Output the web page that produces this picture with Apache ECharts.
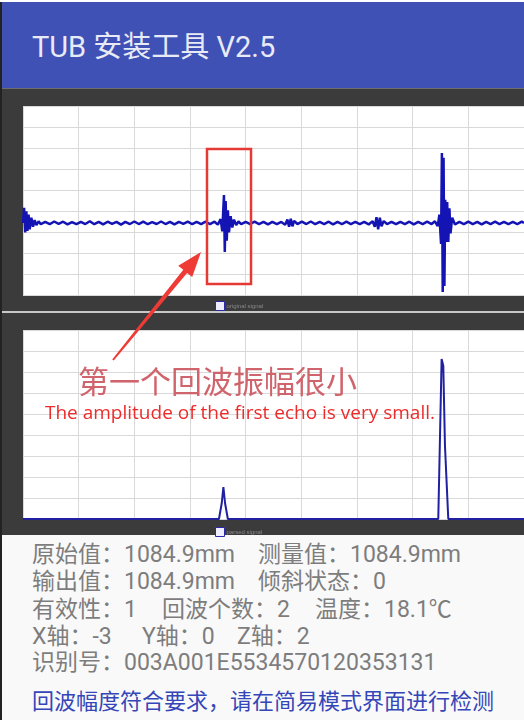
<!DOCTYPE html>
<html>
<head>
<meta charset="utf-8">
<script src="https://cdn.jsdelivr.net/npm/echarts@6/dist/echarts.min.js"></script>
<style>
  body{ margin:0; background:#fff; }
  .page{ position:relative; width:524px; height:720px; overflow:hidden; font-family:Roboto,"Noto Sans CJK SC",sans-serif; }
  .abs{ position:absolute; }
  .edge{ left:0; top:2px; width:2px; height:718px; background:#222; }
  .bar{ left:2px; top:2px; width:522px; height:86px; background:#3f51b5; }
  .title{ left:32px; top:29px; line-height:36px; font-size:29px; color:#e8eaf6; white-space:nowrap; }
  .frame{ left:2px; top:88px; width:522px; height:447px; background:#3b3b3b; border-top:1px solid #6d6d6d; box-sizing:border-box; }
  .sep{ left:2px; top:311px; width:522px; height:2px; background:#c8c8c8; }
  .info{ left:2px; top:535px; width:522px; height:185px; background:#f9f9f9; }
  .t{ font-size:23px; line-height:27px; color:#7d7d7d; white-space:nowrap; }
  .msg{ font-size:22px; line-height:26px; color:#3546b8; white-space:nowrap; }
  #main{ position:absolute; left:0; top:0; width:524px; height:720px; }
</style>
</head>
<body>
<div class="page">
  <div class="abs edge"></div>
  <div class="abs bar"></div>
  <div class="abs title">TUB 安装工具 V2.5</div>
  <div class="abs frame"></div>
  <div class="abs sep"></div>
  <div class="abs info"></div>

  <div class="abs t" style="left:32px;top:541px">原始值：1084.9mm</div>
  <div class="abs t" style="left:258px;top:541px">测量值：1084.9mm</div>
  <div class="abs t" style="left:32px;top:568px">输出值：1084.9mm</div>
  <div class="abs t" style="left:258px;top:568px">倾斜状态：0</div>
  <div class="abs t" style="left:32px;top:596px">有效性：1</div>
  <div class="abs t" style="left:162px;top:596px">回波个数：2</div>
  <div class="abs t" style="left:315px;top:596px">温度：18.1℃</div>
  <div class="abs t" style="left:32px;top:623px">X轴：-3</div>
  <div class="abs t" style="left:142px;top:623px">Y轴：0</div>
  <div class="abs t" style="left:237px;top:623px">Z轴：2</div>
  <div class="abs t" style="left:32px;top:649px">识别号：003A001E5534570120353131</div>
  <div class="abs msg" style="left:32px;top:689px">回波幅度符合要求，请在简易模式界面进行检测</div>

  <div id="main"></div>
</div>
<script>
// 原始信号：[时间(格), 幅度(格)]，幅度相对基线
const topWave = [
  [0.00,0], [0.02,0.72], [0.04,-0.45], [0.06,0.55], [0.08,-0.38], [0.10,0.40], [0.12,-0.30],
  [0.15,0.25], [0.18,-0.18], [0.21,0.14], [0.24,-0.10], [0.28,0.08],
  [0.32,-0.06], [0.40,0.05], [0.48,-0.06], [0.56,0.07], [0.64,-0.04], [0.72,0.06], [0.80,-0.07],
  [0.88,0.04], [0.96,-0.06], [1.04,0.05], [1.12,-0.05], [1.20,0.08], [1.28,-0.06], [1.36,0.05],
  [1.44,-0.07], [1.52,0.06], [1.60,-0.04], [1.68,0.05], [1.76,-0.08], [1.84,0.05], [1.92,-0.05],
  [2.00,0.07], [2.08,-0.05], [2.16,0.06], [2.24,-0.06], [2.32,0.04], [2.40,-0.05], [2.48,0.07],
  [2.56,-0.05], [2.64,0.05], [2.72,-0.07], [2.80,0.05], [2.88,-0.04], [2.96,0.06], [3.04,-0.06],
  [3.12,0.05], [3.20,-0.05], [3.28,0.06], [3.36,-0.05], [3.44,0.06], [3.50,-0.08],
  [3.55,0.18], [3.58,-0.40], [3.61,1.33], [3.625,-1.38], [3.64,1.05], [3.66,-0.85], [3.68,0.60],
  [3.70,-0.45], [3.73,0.32], [3.76,-0.22], [3.79,0.16], [3.83,-0.10], [3.87,0.07],
  [3.92,-0.06], [4.00,0.05], [4.08,-0.05], [4.16,0.06], [4.24,-0.05], [4.32,0.05], [4.40,-0.07],
  [4.48,0.05], [4.56,-0.06], [4.64,0.05], [4.71,-0.08],
  [4.75,0.16], [4.78,-0.18], [4.81,0.20], [4.84,-0.16], [4.87,0.10],
  [4.93,-0.05], [5.01,0.06], [5.09,-0.05], [5.17,0.07], [5.25,-0.06], [5.33,0.05], [5.41,-0.05],
  [5.49,0.06], [5.57,-0.07], [5.65,0.05], [5.73,-0.05], [5.81,0.06], [5.89,-0.05], [5.97,0.05],
  [6.05,-0.06], [6.13,0.05], [6.21,-0.07], [6.28,0.08],
  [6.32,-0.18], [6.35,0.28], [6.38,-0.30], [6.41,0.25], [6.44,-0.16], [6.48,0.09],
  [6.54,-0.05], [6.62,0.05], [6.70,-0.06], [6.78,0.05], [6.86,-0.05], [6.94,0.06], [7.02,-0.07],
  [7.10,0.05], [7.18,-0.05], [7.26,0.06], [7.34,-0.05], [7.40,0.08], [7.45,-0.15],
  [7.48,0.40], [7.51,-1.00], [7.525,3.33], [7.54,-3.29], [7.555,3.10], [7.57,-3.00], [7.585,1.10],
  [7.60,-0.90], [7.62,1.00], [7.64,-0.90], [7.66,0.70], [7.68,-0.50], [7.71,0.25],
  [7.76,-0.07], [7.84,0.05], [7.92,-0.05], [8.00,0.06], [8.08,-0.05], [8.16,0.05], [8.24,-0.07],
  [8.32,0.05], [8.40,-0.05], [8.48,0.06], [8.56,-0.05], [8.64,0.05], [8.72,-0.06], [8.80,0.05],
  [8.88,-0.05], [8.96,0.06], [9.00,0]
];
const topBase = 3.43;   // 基线所在格

// 解析信号：两个回波包络
const parsedWave = [
  [0,0], [3.52,0], [3.57,0.75], [3.60,1.52], [3.63,0.75], [3.68,0],
  [7.46,0], [7.52,7.62], [7.55,7.30], [7.58,3.50], [7.64,0], [9,0]
];

const names = ['original signal', 'parsed signal'];
const xTicks = [0, 9, 1];  // min, max, interval
const yTicks = [0, 9, 1];

let myChart = echarts.init(document.getElementById('main'));

function axisX(i){
  return { gridIndex:i, type:'value', min:xTicks[0], max:xTicks[1], interval:xTicks[2],
    axisLine:{show:false}, axisTick:{show:false}, axisLabel:{show:false},
    splitLine:{show:true, lineStyle:{color:'#d9d9d9', width:1}} };
}
function axisY(i){
  return { gridIndex:i, type:'value', min:yTicks[0], max:yTicks[1], interval:yTicks[2],
    axisLine:{show:false}, axisTick:{show:false}, axisLabel:{show:false},
    splitLine:{show:true, lineStyle:{color:'#d9d9d9', width:1}} };
}
function legendAt(i, top){
  return { data:[names[i]], left:210, top:top, itemWidth:9, itemHeight:9, itemGap:2,
    icon:'rect', itemStyle:{color:'#eeeeff', borderColor:'#2a2aa8', borderWidth:1},
    textStyle:{fontSize:6, color:'#8a8a8a', padding:[0,0,0,-3]}, selectedMode:false };
}

// 箭头
const arrow = [[112.2,359.4],[183.3,269.8],[178.2,265.7],[201,252],[192.2,277.1],[187.1,273.0],[113.8,360.6]];

myChart.setOption({
  backgroundColor:'transparent',
  animation:false,
  grid:[
    {left:23, top:106, width:504, height:189, show:true, backgroundColor:'#fff', borderWidth:0},
    {left:23, top:330, width:504, height:189, show:true, backgroundColor:'#fff', borderWidth:0}
  ],
  xAxis:[axisX(0), axisX(1)],
  yAxis:[axisY(0), axisY(1)],
  legend:[legendAt(0, 296), legendAt(1, 522)],
  series:[
    { name:names[0], type:'line', xAxisIndex:0, yAxisIndex:0, showSymbol:false, silent:true,
      lineStyle:{color:'#1414b4', width:2.5}, itemStyle:{color:'#1414b4'},
      data: topWave.map(p => [p[0], topBase + p[1]]) },
    { name:names[1], type:'line', xAxisIndex:1, yAxisIndex:1, showSymbol:false, silent:true, clip:false,
      lineStyle:{color:'#2020a0', width:2}, itemStyle:{color:'#2020a0'},
      data: parsedWave }
  ],
  graphic:[
    { type:'rect', z:100, shape:{x:207, y:149, width:44, height:135},
      style:{fill:'none', stroke:'#e53935', lineWidth:2.5} },
    { type:'polygon', z:100, shape:{points:arrow}, style:{fill:'#ee3b36'} },
    { type:'text', z:100, left:78, top:366,
      style:{text:'第一个回波振幅很小', font:'31px "Noto Sans CJK SC"', fill:'#d0646c'} },
    { type:'text', z:100, left:45, top:404,
      style:{text:'The amplitude of the first echo is very small.', font:'19px "Open Sans"', fill:'#ee2b2b'} }
  ]
});
</script>
</body>
</html>
